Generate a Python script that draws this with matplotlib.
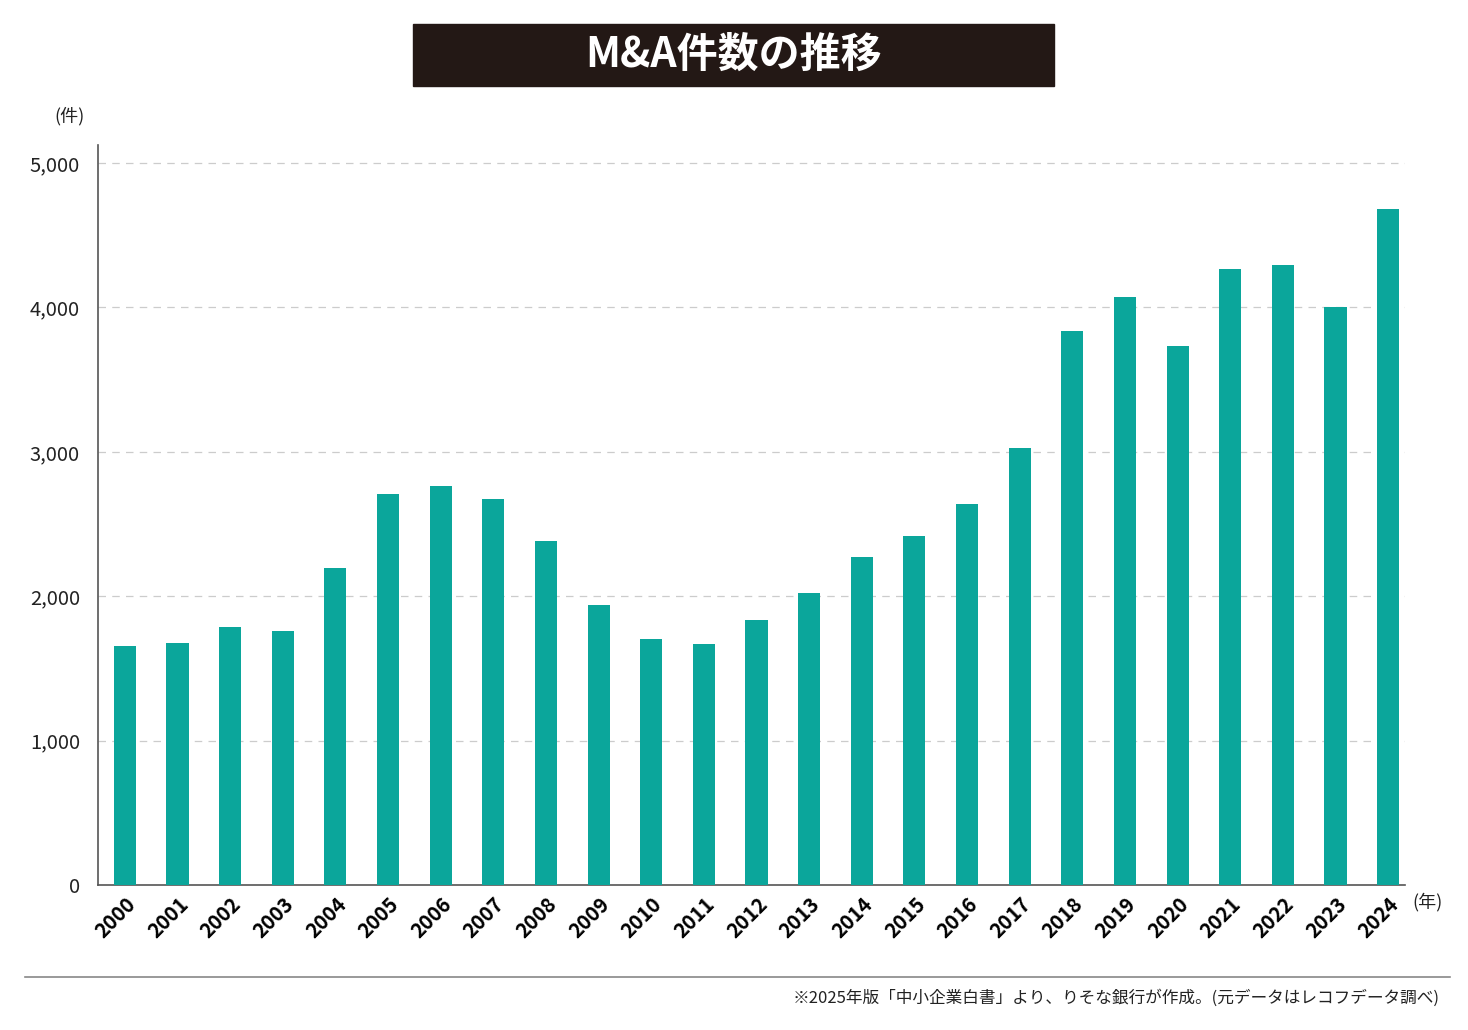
import numpy as np
import matplotlib.pyplot as plt

plt.rcParams["font.family"] = ["Noto Sans CJK JP", "DejaVu Sans"]

years = [str(y) for y in range(2000, 2025)]
counts = [1653, 1674, 1787, 1759, 2195, 2708, 2763, 2673, 2382, 1939,
          1704, 1669, 1835, 2022, 2271, 2417, 2638, 3026, 3837, 4072,
          3733, 4266, 4294, 4003, 4681]
yticks = [0, 1000, 2000, 3000, 4000, 5000]
ytick_labels = ["0", "1,000", "2,000", "3,000", "4,000", "5,000"]

teal = "#0BA69B"
dark = "#231815"
axis_gray = "#555555"

fig = plt.figure(figsize=(14.68, 10.30), dpi=100)
ax = fig.add_axes([98/1468, 145/1030, (1405-98)/1468, (885-145)/1030])

x = np.arange(len(years))
ax.bar(x, counts, width=0.42, color=teal, zorder=3)

ax.set_xlim(-0.51, len(years) - 1 + 0.32)
ax.set_ylim(0, 5125)
ax.set_yticks(yticks)
ax.set_yticklabels(ytick_labels, fontsize=14.5, color="#222222")
ax.set_xticks(x)
ax.set_xticklabels(years, rotation=45, ha="right", va="top",
                   rotation_mode="anchor", fontsize=14.5, fontweight="bold")
ax.tick_params(axis="both", length=0)
ax.tick_params(axis="y", pad=13)
ax.tick_params(axis="x", pad=6)

for v in yticks[1:]:
    ax.axhline(v, color="#cccccc", lw=0.9, ls=(0, (6, 5)), zorder=1)

for s in ["top", "right"]:
    ax.spines[s].set_visible(False)
for s in ["left", "bottom"]:
    ax.spines[s].set_color(axis_gray)
    ax.spines[s].set_linewidth(1.2)

# title box
fig.patches.append(plt.Rectangle((413/1468, 1 - 86/1030), (1054-413)/1468,
                                 62/1030, transform=fig.transFigure,
                                 color=dark, zorder=0))
fig.text(734/1468, 1 - 55/1030, "M&A件数の推移", color="white",
         fontsize=29.5, fontweight="bold", ha="center", va="center")

fig.text(85/1468, 1 - 116/1030, "(件)", fontsize=13, ha="right",
         va="center", color="#222222")
fig.text(1412/1468, 1 - 902/1030, "(年)", fontsize=13, ha="left",
         va="center", color="#222222")

# footer
fig.add_artist(plt.Line2D([25/1468, 1450/1468], [1 - 977/1030, 1 - 977/1030],
                          color="#888888", lw=1.2))
fig.text(1440/1468, 1 - 998/1030,
         "※2025年版「中小企業白書」より、りそな銀行が作成。(元データはレコフデータ調べ)",
         fontsize=12, ha="right", va="center", color="#222222")

fig.savefig("out.png", dpi=100)
